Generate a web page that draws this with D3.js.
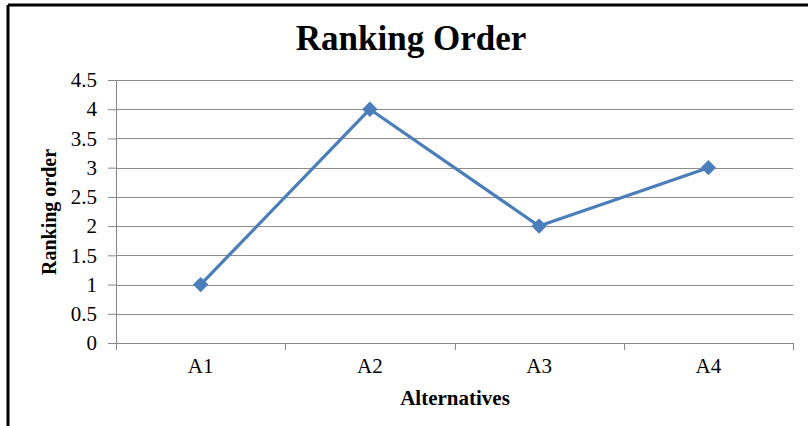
<!DOCTYPE html>
<html lang="en">
<head>
  <meta charset="UTF-8">
  <title>Ranking Order</title>
  <script src="https://cdn.jsdelivr.net/npm/d3@7"></script>
  <style>
    html, body { margin: 0; padding: 0; background: #fff; }
    svg { display: block; font-family: "Liberation Serif", "Times New Roman", serif; }
  </style>
</head>
<body>
<svg id="chart" width="808" height="426"></svg>
<script>
  // chart data
  var alternatives = ["A1", "A2", "A3", "A4"];
  var ranking = [1, 4, 2, 3];
  var yTicks = [0, 0.5, 1, 1.5, 2, 2.5, 3, 3.5, 4, 4.5];

  var svg = d3.select("#chart");

  // frame (top + left only, like the cropped screenshot)
  svg.append("path")
    .attr("d", "M8,5 H808 M8,5 V426")
    .attr("fill", "none")
    .attr("stroke", "#000")
    .attr("stroke-width", 3);

  var margin = { top: 80, left: 116, right: 15, bottom: 83 };
  var width = 808 - margin.left - margin.right;
  var height = 426 - margin.top - margin.bottom;

  var x = d3.scaleBand().domain(alternatives).range([0, width]);
  var y = d3.scaleLinear().domain([0, 4.5]).range([height, 0]);

  var g = svg.append("g")
    .attr("transform", "translate(" + margin.left + "," + margin.top + ")");

  // gridlines
  g.append("g")
    .selectAll("line")
    .data(yTicks.filter(function(d) { return d > 0; }))
    .join("line")
    .attr("x1", 0)
    .attr("x2", width)
    .attr("y1", function(d) { return Math.round(y(d)) + 0.5; })
    .attr("y2", function(d) { return Math.round(y(d)) + 0.5; })
    .attr("stroke", "#8c8c8c")
    .attr("stroke-width", 1);

  // y axis
  var yAxis = g.append("g")
    .call(d3.axisLeft(y).tickValues(yTicks).tickSize(8).tickPadding(11).tickFormat(d3.format("")));
  yAxis.select(".domain").attr("stroke", "#868686");
  yAxis.selectAll(".tick line").attr("stroke", "#868686");
  yAxis.selectAll(".tick text")
    .attr("fill", "#000")
    .style("font-size", "21px")
    .style("font-family", "Liberation Serif");

  // x axis with ticks at band edges
  var xAxisG = g.append("g").attr("transform", "translate(0," + height + ")");
  xAxisG.append("line")
    .attr("x1", 0).attr("x2", width)
    .attr("y1", 0.5).attr("y2", 0.5)
    .attr("stroke", "#868686");
  var edges = alternatives.map(function(d) { return x(d); }).concat([width]);
  xAxisG.selectAll(".edge")
    .data(edges)
    .join("line")
    .attr("class", "edge")
    .attr("x1", function(d) { return Math.round(d) + 0.5; })
    .attr("x2", function(d) { return Math.round(d) + 0.5; })
    .attr("y1", 0)
    .attr("y2", 7)
    .attr("stroke", "#868686");
  xAxisG.selectAll(".lbl")
    .data(alternatives)
    .join("text")
    .attr("class", "lbl")
    .attr("x", function(d) { return x(d) + x.bandwidth() / 2; })
    .attr("y", 30)
    .attr("text-anchor", "middle")
    .style("font-size", "21px")
    .text(function(d) { return d; });

  // line
  var line = d3.line()
    .x(function(d, i) { return x(alternatives[i]) + x.bandwidth() / 2; })
    .y(function(d) { return y(d); });

  g.append("path")
    .datum(ranking)
    .attr("d", line)
    .attr("fill", "none")
    .attr("stroke", "#4a7ebb")
    .attr("stroke-width", 3.2)
    .attr("stroke-linejoin", "round");

  // diamond markers
  g.selectAll(".pt")
    .data(ranking)
    .join("path")
    .attr("class", "pt")
    .attr("d", d3.symbol().type(d3.symbolDiamond2).size(150))
    .attr("transform", function(d, i) {
      return "translate(" + (x(alternatives[i]) + x.bandwidth() / 2) + "," + y(d) + ")";
    })
    .attr("fill", "#4a7ebb");

  // title
  svg.append("text")
    .attr("x", 411)
    .attr("y", 50)
    .attr("text-anchor", "middle")
    .style("font-size", "35px")
    .style("font-weight", "bold")
    .text("Ranking Order");

  // axis titles
  svg.append("text")
    .attr("x", 455)
    .attr("y", 405)
    .attr("text-anchor", "middle")
    .style("font-size", "21px")
    .style("font-weight", "bold")
    .text("Alternatives");

  svg.append("text")
    .attr("transform", "translate(56,212) rotate(-90)")
    .attr("text-anchor", "middle")
    .style("font-size", "20px")
    .style("font-weight", "bold")
    .text("Ranking order");
</script>
</body>
</html>
